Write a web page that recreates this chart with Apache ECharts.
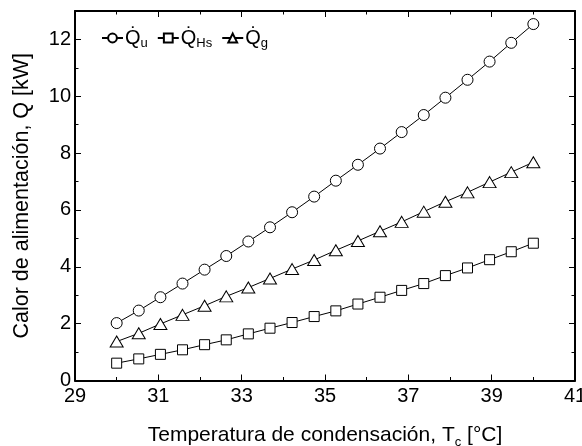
<!DOCTYPE html>
<html>
<head>
<meta charset="utf-8">
<script src="https://cdn.jsdelivr.net/npm/echarts@6/dist/echarts.min.js"></script>
<style>
  html, body { margin: 0; padding: 0; background: #fff; }
</style>
</head>
<body>
<div id="chart" style="width: 582px; height: 446px;"></div>
<script>
// temperatura de condensación (°C)
var tc = [30, 30.53, 31.05, 31.58, 32.11, 32.63, 33.16, 33.68, 34.21, 34.74,
          35.26, 35.79, 36.32, 36.84, 37.37, 37.89, 38.42, 38.95, 39.47, 40];
// calor útil
var qU = [2.02, 2.46, 2.93, 3.41, 3.90, 4.38, 4.89, 5.39, 5.92, 6.47,
          7.03, 7.59, 8.16, 8.74, 9.34, 9.95, 10.58, 11.22, 11.88, 12.54];
// calor Hs
var qHs = [0.61, 0.76, 0.92, 1.08, 1.26, 1.43, 1.64, 1.84, 2.04, 2.25,
           2.45, 2.69, 2.93, 3.17, 3.41, 3.69, 3.96, 4.25, 4.53, 4.83];
// calor g
var qG = [1.37, 1.66, 1.99, 2.31, 2.63, 2.96, 3.27, 3.59, 3.92, 4.24,
          4.58, 4.91, 5.25, 5.58, 5.94, 6.29, 6.62, 6.98, 7.33, 7.68];

var font = "'Liberation Sans', Arial, sans-serif";

function pairs(ys) {
  return tc.map(function (x, i) { return [x, ys[i]]; });
}

var legendText = {
  'Qu': '{q|Q\u0307}{s|u}',
  'QHs': '{q|Q\u0307}{s|Hs}',
  'Qg': '{q|Q\u0307}{s|g}'
};

var subRich = {
  q: { fontSize: 20, fontFamily: font, color: '#000', lineHeight: 24, verticalAlign: 'middle' },
  s: { fontSize: 13, fontFamily: font, color: '#000', verticalAlign: 'bottom' }
};

function frameAxis(pos, isX) {
  return {
    type: 'value',
    position: pos,
    min: isX ? 29 : 0,
    max: isX ? 41 : 13,
    interval: 2,
    axisLine: { show: true, onZero: false, lineStyle: { color: '#000', width: 2 } },
    axisTick: { show: true, inside: true, length: 6, lineStyle: { color: '#000', width: 1 } },
    minorTick: { show: true, splitNumber: 2, length: 3.5, lineStyle: { color: '#000', width: 1 } },
    splitLine: { show: false },
    axisLabel: { show: false }
  };
}

var xBottom = frameAxis('bottom', true);
xBottom.axisLabel = { show: true, fontSize: 20, fontFamily: font, color: '#000', margin: 6 };
xBottom.name = 'Temperatura de condensación, T{s|c} [°C]';
xBottom.nameLocation = 'middle';
xBottom.nameGap = 42;
xBottom.nameTextStyle = {
  fontSize: 21, fontFamily: font, color: '#000', lineHeight: 26, verticalAlign: 'top',
  rich: {
    s: { fontSize: 13, fontFamily: font, color: '#000', verticalAlign: 'bottom' }
  }
};

var yLeft = frameAxis('left', false);
yLeft.axisLabel = {
  show: true, fontSize: 20, fontFamily: font, color: '#000', margin: 4,
  formatter: function (v) { return v === 13 ? '' : v; }
};
yLeft.name = 'Calor de alimentación, Q [kW]';
yLeft.nameLocation = 'middle';
yLeft.nameGap = 42;
yLeft.nameTextStyle = { fontSize: 21.5, fontFamily: font, color: '#000' };

var myChart = echarts.init(document.getElementById('chart'));
myChart.setOption({
  backgroundColor: '#fff',
  animation: false,
  grid: { left: 75, right: 7, top: 11, bottom: 65.5, containLabel: false, outerBoundsMode: 'none' },
  legend: {
    left: 101,
    top: 28,
    padding: 0,
    itemWidth: 21,
    itemHeight: 11,
    itemGap: 9,
    data: ['Qu', 'QHs', 'Qg'],
    formatter: function (name) { return legendText[name]; },
    textStyle: { rich: subRich, padding: [0, 0, 0, -3] }
  },
  xAxis: [xBottom, frameAxis('top', true)],
  yAxis: [yLeft, frameAxis('right', false)],
  series: [
    {
      name: 'Qu', type: 'line', data: pairs(qU),
      symbol: 'circle', symbolSize: 11,
      lineStyle: { color: '#000', width: 1 },
      itemStyle: { color: '#fff', borderColor: '#000', borderWidth: 1 }
    },
    {
      name: 'QHs', type: 'line', data: pairs(qHs),
      symbol: 'rect', symbolSize: 10,
      lineStyle: { color: '#000', width: 1 },
      itemStyle: { color: '#fff', borderColor: '#000', borderWidth: 1 }
    },
    {
      name: 'Qg', type: 'line', data: pairs(qG),
      symbol: 'triangle', symbolSize: [13, 11],
      lineStyle: { color: '#000', width: 1 },
      itemStyle: { color: '#fff', borderColor: '#000', borderWidth: 1 }
    }
  ]
});
</script>
</body>
</html>
